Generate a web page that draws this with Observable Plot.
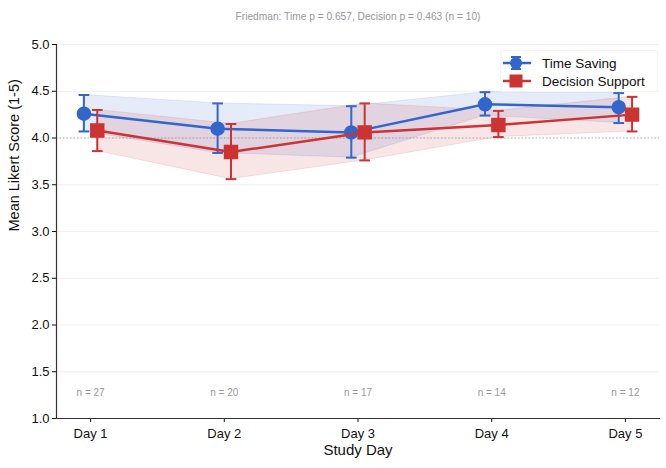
<!DOCTYPE html>
<html>
<head>
<meta charset="utf-8">
<script src="https://cdn.jsdelivr.net/npm/d3@7"></script>
<script src="https://cdn.jsdelivr.net/npm/@observablehq/plot@0.6"></script>
<style>
  html, body { margin: 0; padding: 0; background: #fff; }
  body { width: 666px; height: 468px; overflow: hidden; font-family: "Liberation Sans", Arial, sans-serif; }
  #wrap { position: relative; width: 666px; height: 468px; }
  #legend { position: absolute; left: 500px; top: 50px; width: 156px; height: 40px; background: rgba(255,255,255,0.85);
    border: 1px solid rgba(235,235,235,0.5); border-radius: 3px; font-size: 13.5px; color: #111; }
  #legend .row { position: absolute; left: 0; height: 18px; display: flex; align-items: center; }
  #legend svg { display: block; }
  #legend span { margin-left: 9px; }
</style>
</head>
<body>
<div id="wrap"></div>
<script>
const days = [1, 2, 3, 4, 5];
const dayLabels = ["Day 1", "Day 2", "Day 3", "Day 4", "Day 5"];
const nCounts = [27, 20, 17, 14, 12];

const timeMean = [4.26, 4.10, 4.06, 4.36, 4.33];
const timeLo   = [4.07, 3.84, 3.79, 4.24, 4.16];
const timeHi   = [4.46, 4.37, 4.34, 4.49, 4.48];

const decMean = [4.08, 3.85, 4.06, 4.14, 4.25];
const decLo   = [3.86, 3.56, 3.76, 4.01, 4.07];
const decHi   = [4.30, 4.15, 4.37, 4.29, 4.44];

const seriesNames = ["Time Saving", "Decision Support"];
const seriesColors = ["#3366cc", "#cc3333"];
const seriesOffsets = [-0.05, 0.05];
const yTicks = [1.0, 1.5, 2.0, 2.5, 3.0, 3.5, 4.0, 4.5, 5.0];
const refLine = 4.0;
const nLabelY = 1.28;
const title = "Friedman: Time p = 0.657, Decision p = 0.463 (n = 10)";
const xLabel = "Study Day";
const yLabel = "Mean Likert Score (1-5)";
const xDomain = [0.745, 5.255];
const capHalf = 0.04;

const build = (mean, lo, hi, s) => days.map((d, i) => ({
  series: seriesNames[s], x: d + seriesOffsets[s], mean: mean[i], lo: lo[i], hi: hi[i]
}));
const timeData = build(timeMean, timeLo, timeHi, 0);
const decData = build(decMean, decLo, decHi, 1);
const nData = days.map((d, i) => ({x: d, label: `n = ${nCounts[i]}`}));

function seriesMarks(data, color, symbol, r) {
  return [
    Plot.ruleX(data, {x: "x", y1: "lo", y2: "hi", stroke: color, strokeWidth: 2}),
    Plot.link(data, {x1: d => d.x - capHalf, x2: d => d.x + capHalf, y1: "hi", y2: "hi", stroke: color, strokeWidth: 2}),
    Plot.link(data, {x1: d => d.x - capHalf, x2: d => d.x + capHalf, y1: "lo", y2: "lo", stroke: color, strokeWidth: 2}),
    Plot.line(data, {x: "x", y: "mean", stroke: color, strokeWidth: 2.5}),
    Plot.dot(data, {x: "x", y: "mean", fill: color, stroke: color, symbol, r})
  ];
}

const chart = Plot.plot({
  width: 666,
  height: 468,
  marginLeft: 56,
  marginRight: 7,
  marginTop: 44,
  marginBottom: 50,
  style: {fontFamily: "'Liberation Sans', Arial, sans-serif", background: "#fff", color: "#111"},
  x: {domain: xDomain},
  y: {domain: [1, 5]},
  marks: [
    Plot.ruleY(yTicks, {stroke: "#ececec", strokeWidth: 0.8}),
    Plot.ruleY([refLine], {stroke: "#aaa", strokeWidth: 0.8, strokeDasharray: "1.5,2"}),
    Plot.areaY(timeData, {x: "x", y1: "lo", y2: "hi", fill: seriesColors[0], fillOpacity: 0.13, stroke: seriesColors[0], strokeOpacity: 0.12}),
    Plot.areaY(decData, {x: "x", y1: "lo", y2: "hi", fill: seriesColors[1], fillOpacity: 0.13, stroke: seriesColors[1], strokeOpacity: 0.12}),
    ...seriesMarks(timeData, seriesColors[0], "circle", 6.5),
    ...seriesMarks(decData, seriesColors[1], "square", 7.3),
    Plot.text(nData, {x: "x", y: () => nLabelY, text: "label", fill: "#999", fontSize: 10}),
    Plot.axisY({ticks: yTicks, tickFormat: d3.format(".1f"), tickSize: 4, tickPadding: 3, fontSize: 13, label: null}),
    Plot.axisX({ticks: days, tickFormat: (d, i) => dayLabels[i], tickSize: 4, tickPadding: 6, fontSize: 13, label: null}),
    Plot.text([yLabel], {frameAnchor: "left", rotate: -90, dx: -42, fontSize: 14.5, fill: "#111"}),
    Plot.text([xLabel], {frameAnchor: "bottom", dy: 36, fontSize: 15, fill: "#111"}),
    Plot.frame({anchor: "left", stroke: "#333", strokeWidth: 1.2}),
    Plot.frame({anchor: "bottom", stroke: "#333", strokeWidth: 1.2}),
    Plot.text([title], {frameAnchor: "top", dy: -32, fill: "#999", fontSize: 10.2})
  ]
});

const wrap = document.getElementById("wrap");
wrap.appendChild(chart);

// Legend
const legend = document.createElement("div");
legend.id = "legend";
seriesNames.forEach((name, i) => {
  const row = document.createElement("div");
  row.className = "row";
  row.style.top = (3 + i * 18) + "px";
  const sym = i === 0
    ? `<circle cx="15" cy="9" r="6" fill="${seriesColors[i]}"/><line x1="15" x2="15" y1="3" y2="15" stroke="${seriesColors[i]}" stroke-width="2"/><line x1="10" x2="20" y1="3" y2="3" stroke="${seriesColors[i]}" stroke-width="2"/><line x1="10" x2="20" y1="15" y2="15" stroke="${seriesColors[i]}" stroke-width="2"/>`
    : `<rect x="8.5" y="2.5" width="13" height="13" fill="${seriesColors[i]}"/>`;
  row.innerHTML = `<svg width="32" height="18"><line x1="2" x2="30" y1="9" y2="9" stroke="${seriesColors[i]}" stroke-width="2.5"/>${sym}</svg><span>${name}</span>`;
  legend.appendChild(row);
});
wrap.appendChild(legend);
</script>
</body>
</html>
